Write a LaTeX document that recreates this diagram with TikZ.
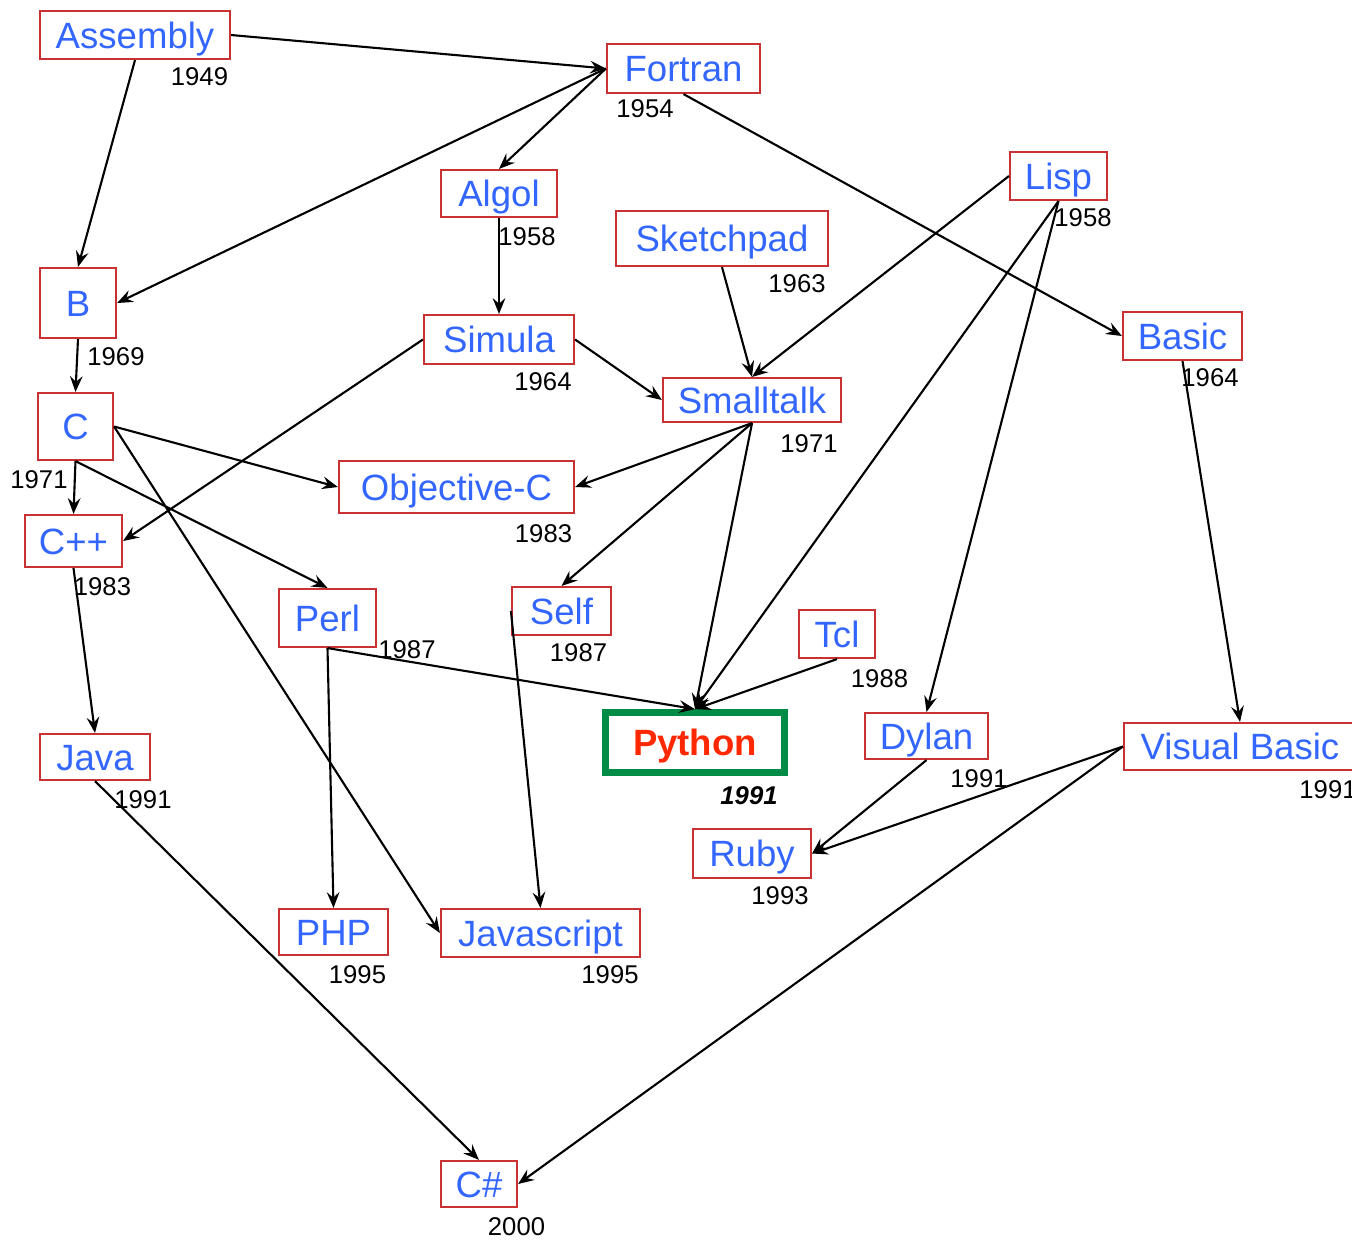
\documentclass[tikz,border=0pt]{standalone}
\usepackage{fontspec}
\setmainfont{Liberation Sans}
\usepackage{tikz}
\usetikzlibrary{arrows.meta}
\definecolor{boxred}{RGB}{200, 50, 50}
\definecolor{langblue}{RGB}{51, 102, 255}
\definecolor{pygreen}{RGB}{0, 140, 70}
\definecolor{pyred}{RGB}{255, 40, 0}
\tikzset{
  lang/.style={draw=boxred, line width=0.6pt, text=langblue, inner sep=0pt,
    font=\fontsize{10.4}{12}\selectfont, text height=0.265cm, text depth=0cm},
  year/.style={inner sep=0pt, font=\fontsize{7.3}{9}\selectfont,
    text height=0.19cm, text depth=0cm},
  link/.style={->, line width=0.6pt},
}

\begin{document}
\begin{tikzpicture}[x=0.01cm, y=-0.01cm, >={Stealth[length=4.5pt, width=3.6pt, inset=1.6pt]}]
  \useasboundingbox (0,0) rectangle (1352,1241);
  % Languages
  \node[lang, minimum width=1.90cm, minimum height=0.48cm] (asm) at (135,35) {Assembly};
  \node[lang, minimum width=1.53cm, minimum height=0.49cm] (fortran) at (683.5,68.5) {Fortran};
  \node[lang, minimum width=1.16cm, minimum height=0.47cm] (algol) at (499,193.5) {Algol};
  \node[lang, minimum width=2.12cm, minimum height=0.55cm] (sketch) at (722,238.5) {Sketchpad};
  \node[lang, minimum width=1.50cm, minimum height=0.49cm] (simula) at (499,339.5) {Simula};
  \node[lang, minimum width=1.78cm, minimum height=0.44cm] (smalltalk) at (752,400) {Smalltalk};
  \node[lang, minimum width=0.97cm, minimum height=0.48cm] (lisp) at (1058.5,176) {Lisp};
  \node[lang, minimum width=1.19cm, minimum height=0.48cm] (basic) at (1182.5,336) {Basic};
  \node[lang, minimum width=0.76cm, minimum height=0.70cm] (b) at (78,303) {B};
  \node[lang, minimum width=0.75cm, minimum height=0.67cm] (c) at (75.5,426.5) {C};
  \node[lang, minimum width=0.97cm, minimum height=0.52cm] (cpp) at (73.5,541) {C++};
  \node[lang, minimum width=2.35cm, minimum height=0.52cm] (objc) at (456.5,487) {Objective-C};
  \node[lang, minimum width=0.97cm, minimum height=0.58cm] (perl) at (327.5,618) {Perl};
  \node[lang, minimum width=1.10cm, minimum height=0.46cm] (java) at (95,757) {Java};
  \node[lang, minimum width=0.99cm, minimum height=0.48cm] (self) at (561.5,611) {Self};
  \node[lang, minimum width=0.76cm, minimum height=0.48cm] (tcl) at (837,634) {Tcl};
  \node[lang, draw=pygreen, line width=1.9pt, text=pyred, font=\fontsize{10.4}{12}\selectfont\bfseries,
        minimum width=1.79cm, minimum height=0.60cm] (python) at (695,742.5) {Python};
  \node[lang, minimum width=1.23cm, minimum height=0.46cm] (dylan) at (926.5,736) {Dylan};
  \node[lang, minimum width=2.32cm, minimum height=0.47cm] (vb) at (1240,746.5) {Visual Basic};
  \node[lang, minimum width=1.18cm, minimum height=0.49cm] (ruby) at (752,853.5) {Ruby};
  \node[lang, minimum width=1.09cm, minimum height=0.46cm] (php) at (333.5,932) {PHP};
  \node[lang, minimum width=1.99cm, minimum height=0.48cm] (js) at (540.5,933) {Javascript};
  \node[lang, minimum width=0.76cm, minimum height=0.46cm] (csharp) at (479,1184) {C\#};

  % Years
  \node[year] (asmyear) at (199.5,75.5) {1949};
  \node[year] (fortranyear) at (645,108) {1954};
  \node[year] (algolyear) at (527,235.5) {1958};
  \node[year] (sketchyear) at (797,283) {1963};
  \node[year] (simulayear) at (543,381) {1964};
  \node[year] (smalltalkyear) at (809,442.5) {1971};
  \node[year] (lispyear) at (1083,216.5) {1958};
  \node[year] (basicyear) at (1210,377) {1964};
  \node[year] (byear) at (116,355.5) {1969};
  \node[year] (cyear) at (39,479) {1971};
  \node[year] (cppyear) at (102.5,586) {1983};
  \node[year] (objcyear) at (543.5,532.5) {1983};
  \node[year] (perlyear) at (407,649) {1987};
  \node[year] (javayear) at (143,798.5) {1991};
  \node[year] (selfyear) at (578.5,652) {1987};
  \node[year] (tclyear) at (879.5,677.5) {1988};
  \node[year, font=\fontsize{7.3}{9}\selectfont\bfseries\itshape] (pythonyear) at (749,794.5) {1991};
  \node[year] (dylanyear) at (979,777.5) {1991};
  \node[year] (vbyear) at (1328,788.5) {1991};
  \node[year] (rubyyear) at (780,895) {1993};
  \node[year] (phpyear) at (357.5,974) {1995};
  \node[year] (jsyear) at (610,974) {1995};
  \node[year] (csharpyear) at (516.5,1226) {2000};

  % Influences
  \foreach \a/\b in {asm.east/fortran.west, asm.south/b.north, fortran.west/b.east,
      fortran.west/algol.north, fortran.south/basic.west, algol.south/simula.north,
      simula.east/smalltalk.west, simula.west/cpp.east, sketch.south/smalltalk.north,
      lisp.west/smalltalk.north, lisp.south/python.north, lisp.south/dylan.north,
      basic.south/vb.north, b.south/c.north, c.south/cpp.north, c.east/objc.west,
      c.south/perl.north, c.east/js.west, smalltalk.south/objc.east,
      smalltalk.south/self.north, smalltalk.south/python.north, cpp.south/java.north,
      perl.south/php.north, perl.south/python.north, self.west/js.north,
      tcl.south/python.north, java.south/csharp.north, dylan.south/ruby.east,
      vb.west/ruby.east, vb.west/csharp.east}{
    \draw[link] (\a) -- (\b);
  }
\end{tikzpicture}
\end{document}
